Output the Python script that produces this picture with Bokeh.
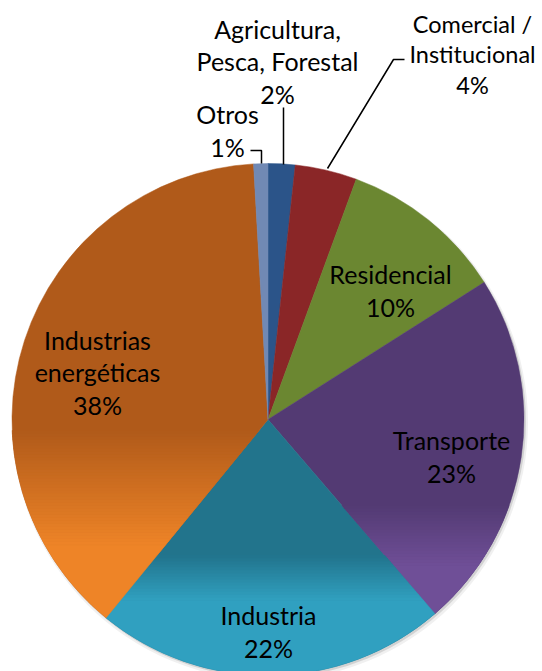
import numpy as np
from bokeh.plotting import figure
from bokeh.models import Range1d, ColumnDataSource
from bokeh.core.properties import value
from bokeh.embed import file_html
from bokeh.resources import INLINE

# ---------------- data ----------------
categories = ["Agricultura,\nPesca, Forestal", "Comercial /\nInstitucional", "Residencial",
              "Transporte", "Industria", "Industrias\nenergéticas", "Otros"]
shares = [1.7, 3.9, 10.4, 22.7, 22.2, 38.2, 0.9]
pct_labels = ["2%", "4%", "10%", "23%", "22%", "38%", "1%"]

# ---------------- style ----------------
dark_colors = ["#2B5489", "#8A2627", "#6B8731", "#533A73", "#22748C", "#B05A1A", "#7189B4"]
light_colors = [None, None, None, "#6F4F97", "#30A0C0", "#EE8427", None]
# gradient start / end in page pixels (top -> bottom)
grad_rng = [None, None, None, (505, 565), (555, 600), (430, 545), None]

W, H = 542, 671
def sx(x):
    return x
def sy(y):
    return H - y

CX, CY, R = sx(267.5), sy(419), 256

p = figure(width=W, height=H, x_range=Range1d(0, W), y_range=Range1d(0, H),
           output_backend="svg", toolbar_location=None, min_border=0,
           x_axis_location=None, y_axis_location=None)
p.grid.visible = False
p.outline_line_color = None
p.background_fill_color = "white"
p.border_fill_color = "white"

# shadow
p.circle(x=[CX + 2, CX + 1.5], y=[CY - 3, CY - 2], radius=[R + 2, R + 0.5],
         fill_color="black", fill_alpha=[0.06, 0.12], line_color=None)

total = sum(shares)
cum = np.cumsum([0] + shares)
start = np.pi / 2 - 2 * np.pi * cum[:-1] / total
end = np.pi / 2 - 2 * np.pi * cum[1:] / total

src = ColumnDataSource(dict(start=start, end=end, color=dark_colors))
p.wedge(x=CX, y=CY, radius=R, start_angle="start", end_angle="end", direction="clock",
        fill_color="color", line_color="color", line_width=0.5, source=src)

# gradient overlay (vertical) -------------------------------------------
def clip(poly, yc, keep_below):
    out = []
    n = len(poly)
    def inside(pt):
        return pt[1] <= yc if keep_below else pt[1] >= yc
    for i in range(n):
        a = poly[i]
        b = poly[(i + 1) % n]
        ia, ib = inside(a), inside(b)
        if ia:
            out.append(a)
        if ia != ib:
            t = (yc - a[1]) / (b[1] - a[1])
            out.append((a[0] + t * (b[0] - a[0]), yc))
    return out

def hex2rgb(h):
    h = h.lstrip("#")
    return np.array([int(h[i:i + 2], 16) for i in (0, 2, 4)], dtype=float)

def rgb2hex(c):
    return "#%02x%02x%02x" % tuple(int(round(v)) for v in c)

xs, ys, cols = [], [], []
for i in range(len(shares)):
    if light_colors[i] is None:
        continue
    angs = np.linspace(start[i], end[i], 200)
    poly = [(CX, CY)] + [(CX + R * np.cos(a), CY + R * np.sin(a)) for a in angs]
    g0, g1 = grad_rng[i]
    c0, c1 = hex2rgb(dark_colors[i]), hex2rgb(light_colors[i])
    edges = list(np.arange(g0, g1, 3.0)) + [g1, 720]
    for k in range(len(edges) - 1):
        ya, yb = edges[k], edges[k + 1]
        t = min(1.0, (0.5 * (ya + yb) - g0) / (g1 - g0)) if yb < 720 else 1.0
        col = rgb2hex(c0 + (c1 - c0) * t)
        pc = clip(poly, sy(ya), True)
        pc = clip(pc, sy(yb), False) if pc else pc
        if len(pc) >= 3:
            xs.append([q[0] for q in pc])
            ys.append([q[1] for q in pc])
            cols.append(col)
p.patches(xs=xs, ys=ys, fill_color=cols, line_color=cols, line_width=0.6)

# labels --------------------------------------------------------------
label_pos = [(277, 61), (472, 54), (390, 290), (451, 456), (268, 631), (97, 372), (227, 130)]
label_size = ["25px", "23.5px", "25px", "25px", "25px", "25px", "25px"]
texts = [c + "\n" + pc for c, pc in zip(categories, pct_labels)]
lsrc = ColumnDataSource(dict(x=[sx(q[0]) for q in label_pos], y=[sy(q[1]) for q in label_pos],
                             text=texts, size=label_size))
p.text(x="x", y="y", text="text", text_font_size="size", source=lsrc,
       text_align="center", text_baseline="middle", text_font=value("Lato"),
       text_line_height=1.08, text_color="black")

# leader lines
leaders = [
    [(283, 107), (283, 164)],
    [(327, 168), (393, 59), (404, 59)],
    [(250, 150), (261, 150), (261, 163)],
]
for ln in leaders:
    p.line(x=[sx(q[0]) for q in ln], y=[sy(q[1]) for q in ln], line_color="black", line_width=1.5)

open("out.html", "w").write(file_html(p, INLINE))
